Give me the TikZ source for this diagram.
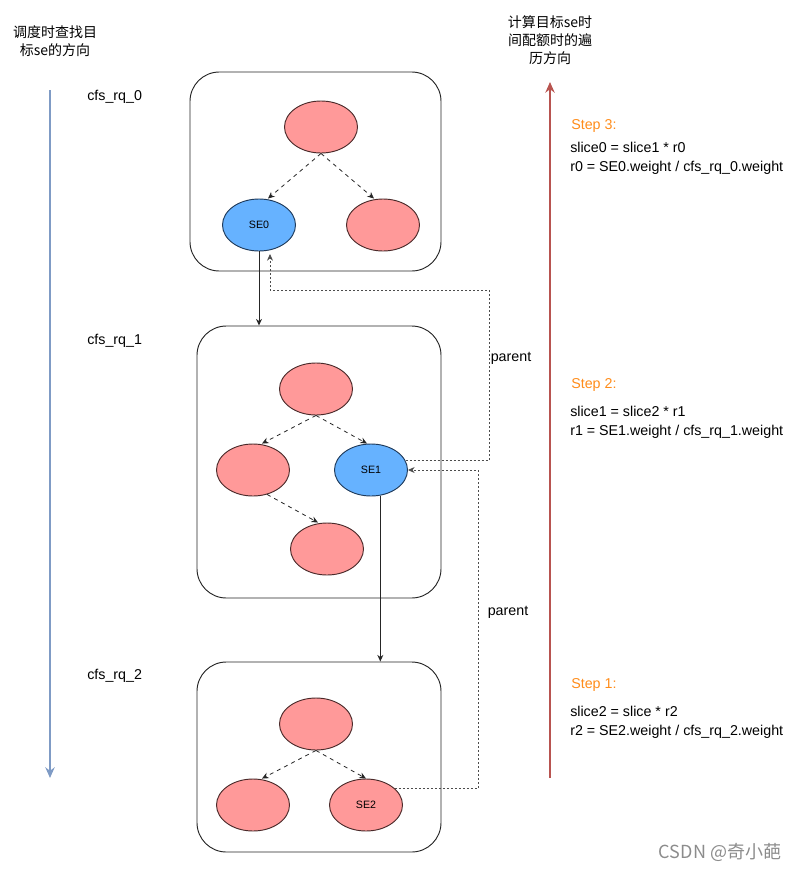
\documentclass[tikz,border=0pt]{standalone}
\usepackage{fontspec}
\setmainfont{Liberation Sans}
\newfontfamily\cjk{Noto Sans CJK SC}
\usetikzlibrary{arrows.meta,shapes.geometric}
\definecolor{pinkfill}{HTML}{FF9999}
\definecolor{pinkdraw}{HTML}{4A2A2A}
\definecolor{bluefill}{HTML}{66B2FF}
\definecolor{bluedraw}{HTML}{1F3A5A}
\definecolor{leftarr}{HTML}{7F9BC5}
\definecolor{rightarr}{HTML}{B85450}
\definecolor{steporange}{HTML}{FF8C1A}
\tikzset{
  ell/.style={ellipse, minimum width=54.75pt, minimum height=39pt, inner sep=0pt, line width=0.7pt, font=\fontsize{8}{9}\selectfont},
  pinkell/.style={ell, fill=pinkfill, draw=pinkdraw},
  blueell/.style={ell, fill=bluefill, draw=bluedraw},
  rqbox/.style={draw=black!85, line width=0.7pt, rounded corners=22pt, inner sep=0pt},
  treearr/.style={dashed, line width=0.6pt, draw=black!85, -{Stealth[length=5pt,width=4.5pt]}},
  solidarr/.style={line width=0.7pt, draw=black!85, -{Stealth[length=5pt,width=4.5pt]}},
  parentarr/.style={dash pattern=on 1.5pt off 1.5pt, line width=0.6pt, draw=black!70, -{Stealth[length=5pt,width=4.5pt]}},
  lbl/.style={font=\fontsize{10.7}{13}\selectfont, inner sep=0pt},
  eqlbl/.style={lbl, anchor=west, align=left, font=\fontsize{10.7}{14.25}\selectfont},
  cjklbl/.style={font=\cjk\fontsize{10.5}{13.5}\selectfont, align=center, inner sep=0pt},
}
\begin{document}
\begin{tikzpicture}[x=0.75pt,y=-0.75pt]
\useasboundingbox (0,0) rectangle (800,871);

% direction arrows
\coordinate (la1) at (50,90);
\coordinate (la2) at (50,778);
\coordinate (ra1) at (550,778);
\coordinate (ra2) at (550,82);
\draw[leftarr, line width=1.5pt, -{Stealth[length=8pt,width=7pt]}] (la1) -- (la2);
\draw[rightarr, line width=1.5pt, -{Stealth[length=8pt,width=7pt]}] (ra1) -- (ra2);
\node[cjklbl] (lefttxt) at (55,41) {调度时查找目\\标se的方向};
\node[cjklbl] (righttxt) at (550,40) {计算目标se时\\间配额时的遍\\历方向};

% boxes
\node[rqbox, minimum width=188.25pt, minimum height=149.25pt] (b0) at (315.5,171.5) {};
\node[rqbox, minimum width=183pt, minimum height=204pt] (b1) at (319,462) {};
\node[rqbox, minimum width=183pt, minimum height=142.5pt] (b2) at (319,757) {};

\node[lbl, anchor=west] (l0) at (87,97) {cfs\_rq\_0};
\node[lbl, anchor=west] (l1) at (87,341) {cfs\_rq\_1};
\node[lbl, anchor=west] (l2) at (87,676) {cfs\_rq\_2};

% box 0
\node[pinkell] (t0) at (321,127) {};
\node[blueell] (se0) at (259,225) {SE0};
\node[pinkell] (r0) at (383,225) {};
\draw[treearr] (t0.south) -- ([xshift=6.75pt]se0.north);
\draw[treearr] (t0.south) -- ([xshift=-6.75pt]r0.north);

% box 1
\node[pinkell] (t1) at (316,389) {};
\node[pinkell] (l1e) at (253,470) {};
\node[blueell] (se1) at (371,470) {SE1};
\node[pinkell] (b1e) at (327,549) {};
\draw[treearr] (t1.south) -- ([xshift=6.75pt]l1e.north);
\draw[treearr] (t1.south) -- ([xshift=-3pt]se1.north);
\draw[treearr] (l1e.-60) -- ([xshift=-6.75pt]b1e.north);

% box 2
\node[pinkell] (t2) at (316,724) {};
\node[pinkell] (l2e) at (253,805) {};
\node[pinkell] (se2) at (366,805) {SE2};
\draw[treearr] (t2.south) -- ([xshift=6.75pt]l2e.north);
\draw[treearr] (t2.south) -- ([xshift=0pt]se2.north);

% solid arrows
\draw[solidarr] (se0.south) -- (se0.south |- b1.north);
\draw[solidarr] (se1.-70) -- (se1.-70 |- b2.north);

% parent links
\coordinate (c1) at (489,290);
\coordinate (se0tip) at (270,254);
\draw[parentarr] (se1.15) -| (c1) -| (se0tip);
\coordinate (c2) at (478,470);
\draw[parentarr] (se2.30) -| (c2) -- (se1.east);
\node[lbl] (p1) at (511,358) {parent};
\node[lbl] (p2) at (508,612) {parent};

% step texts
\node[lbl, anchor=west, text=steporange] (s3) at (571,126) {Step 3:};
\node[eqlbl] (e3) at (570,158.5) {slice0 = slice1 * r0\\r0 = SE0.weight / cfs\_rq\_0.weight};
\node[lbl, anchor=west, text=steporange] (s2) at (571,385) {Step 2:};
\node[eqlbl] (e2) at (570,422.5) {slice1 = slice2 * r1\\r1 = SE1.weight / cfs\_rq\_1.weight};
\node[lbl, anchor=west, text=steporange] (s1) at (571,685) {Step 1:};
\node[eqlbl] (e1) at (570,722.5) {slice2 = slice * r2\\r2 = SE2.weight / cfs\_rq\_2.weight};

% watermark
\node[font=\cjk\fontsize{13.5}{15}\selectfont, text=black!45, inner sep=0pt] (wm) at (720,852) {CSDN @奇小葩};
\end{tikzpicture}
\end{document}
